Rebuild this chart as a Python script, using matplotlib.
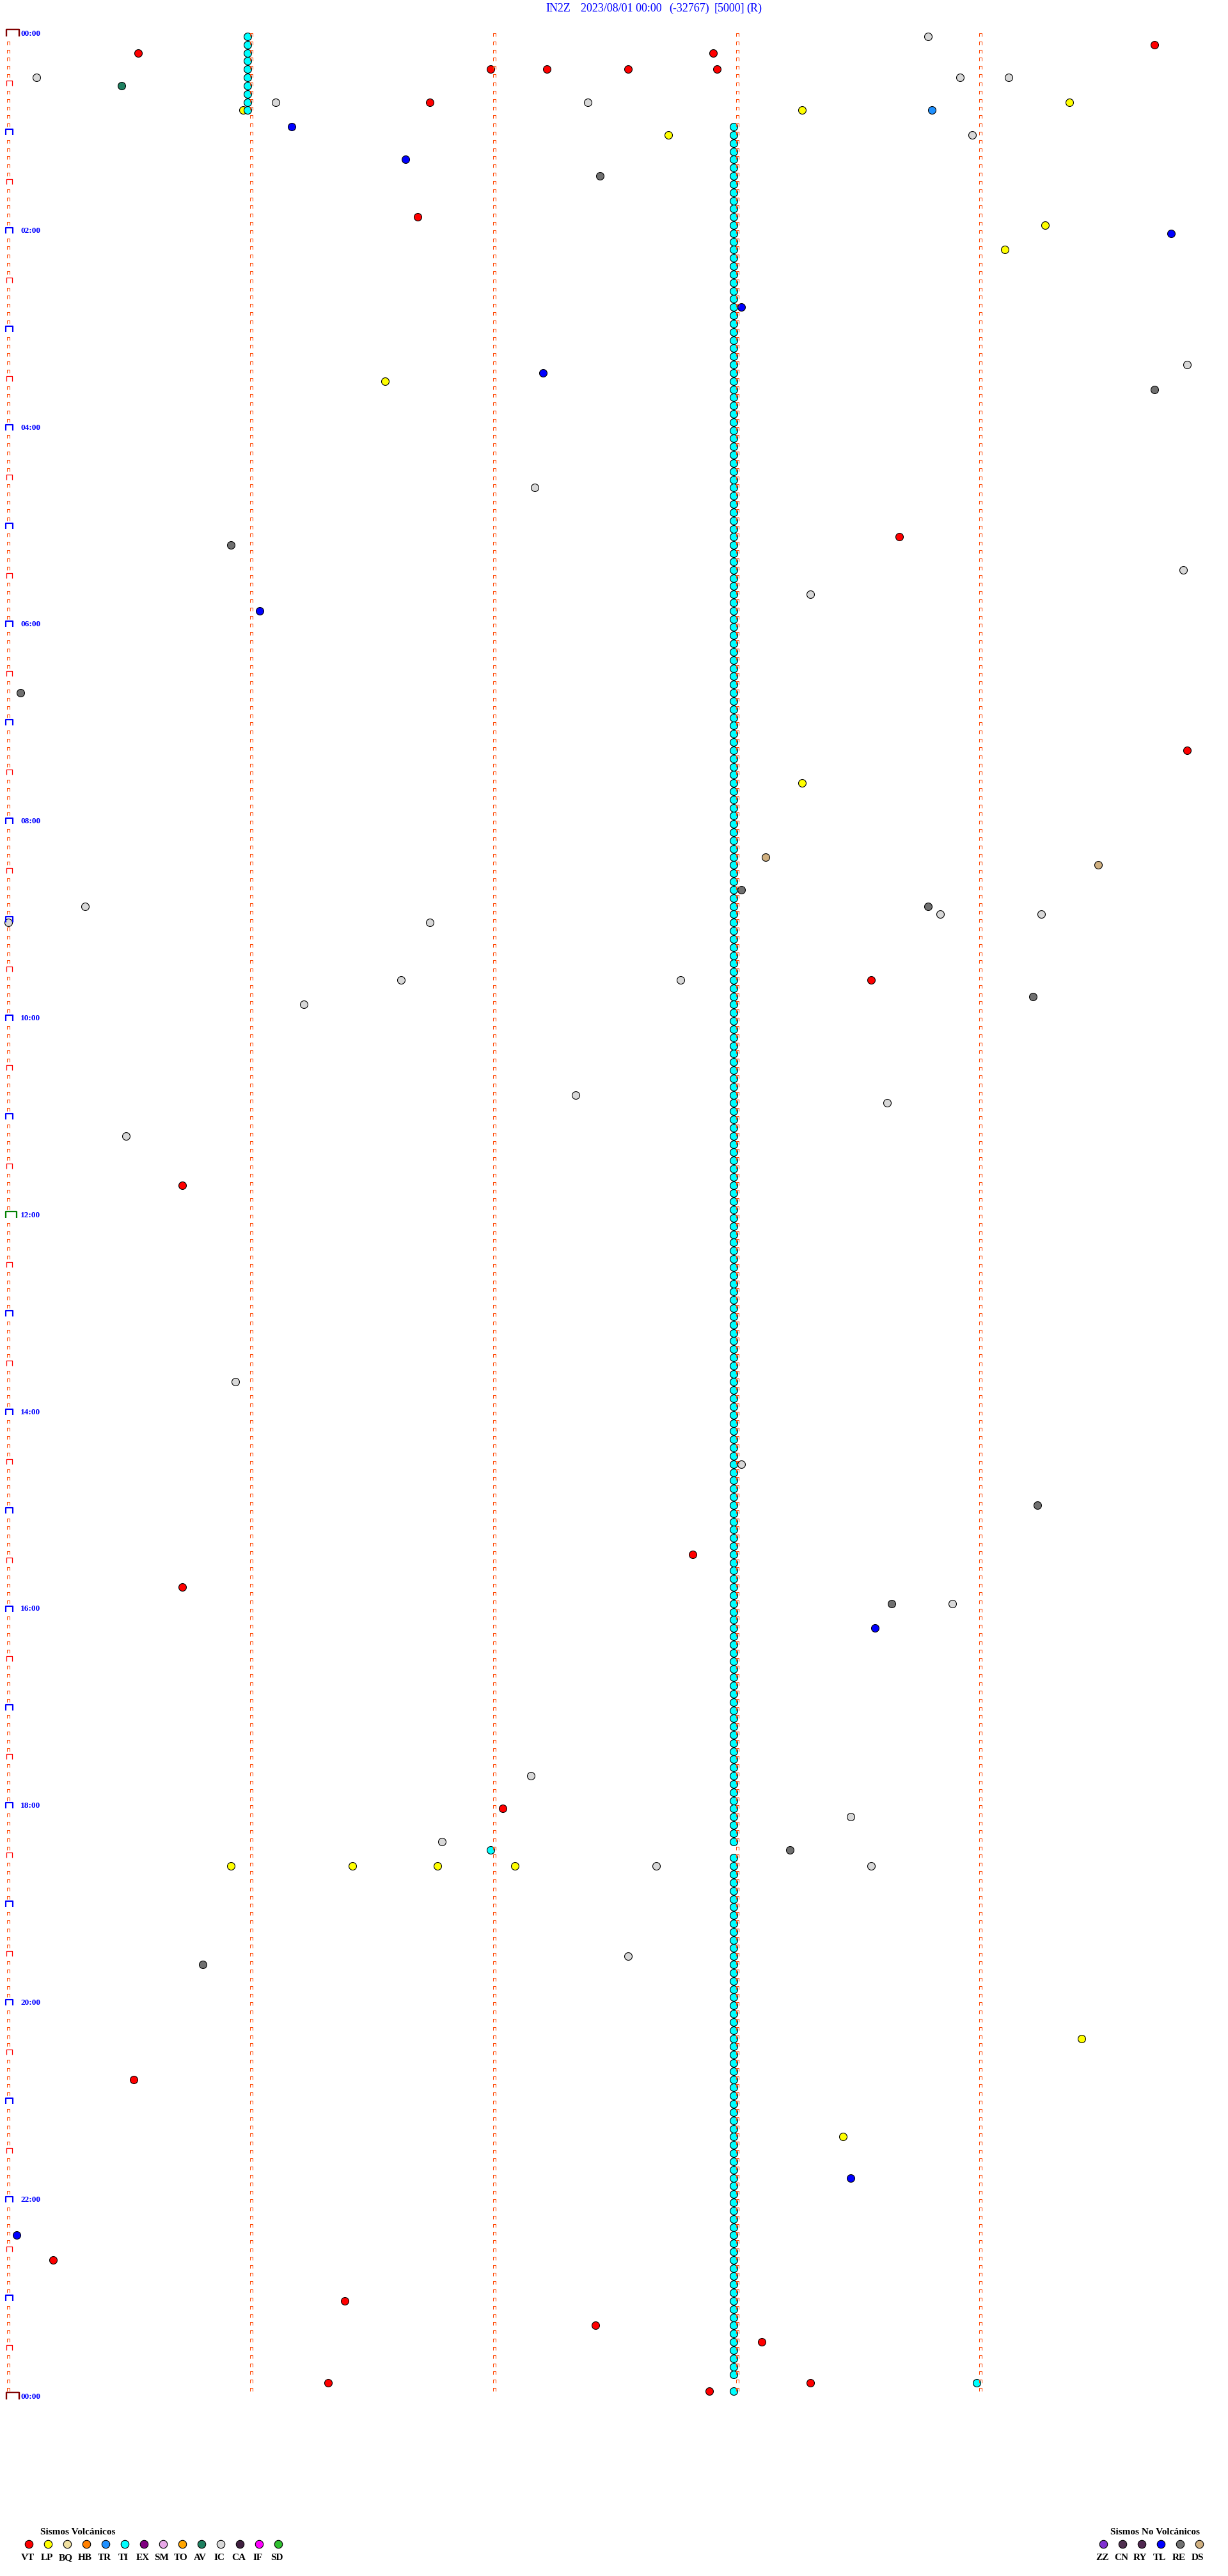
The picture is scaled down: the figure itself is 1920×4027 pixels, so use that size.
import numpy as np
import pandas as pd
import matplotlib
matplotlib.use("Agg")
import matplotlib.pyplot as plt
from matplotlib.path import Path

# header of the drum record
station = "IN2Z"
start_txt = "2023/08/01 00:00"
clip_txt = "(-32767)"
scale_txt = "[5000]"
mode_txt = "(R)"

minutes_per_line = 5
n_lines = 288
hour_labels = ["00:00", "02:00", "04:00", "06:00", "08:00", "10:00", "12:00",
               "14:00", "16:00", "18:00", "20:00", "22:00", "00:00"]

volc_types = ["VT", "LP", "BQ", "HB", "TR", "TI", "EX", "SM", "TO", "AV", "IC", "CA", "IF", "SD"]
volc_colors = ["#ff0000", "#ffff00", "#f0e0a0", "#ff8000", "#1e90ff", "#00ffff", "#800080",
               "#e8a8e8", "#ffa500", "#1e8060", "#d8d8d8", "#402040", "#ff00ff", "#30c030"]
novolc_types = ["ZZ", "CN", "RY", "TL", "RE", "DS"]
novolc_colors = ["#8030d0", "#503050", "#502850", "#0000ff", "#707070", "#d0b080"]

# picked events (time of day)
vt_times = ["00:09:43", "00:10:32", "00:12:54", "00:21:59", "00:22:13", "00:22:33", "00:22:55",
            "00:41:44", "01:51:41", "05:08:40", "07:19:51", "09:38:33", "11:40:43", "15:27:49",
            "15:45:43", "18:02:02", "20:45:31", "22:35:11", "23:01:23", "23:17:25", "23:28:06",
            "23:51:19", "23:53:18", "23:57:53"]
lp_times = ["00:45:58", "00:48:16", "00:44:22", "01:02:43", "01:59:16", "02:14:06", "03:31:33",
            "07:38:16", "18:35:55", "18:36:25", "18:36:46", "18:37:05", "20:24:25", "21:23:26"]
tr_times = ["00:48:48"]
av_times = ["00:30:28"]
ic_times = ["00:03:47", "00:25:07", "00:28:55", "00:29:07", "00:41:06", "00:42:23", "01:03:58",
            "03:24:51", "04:37:10", "05:29:50", "05:43:18", "08:50:19", "08:58:50", "08:59:15",
            "09:00:00", "09:01:44", "09:36:37", "09:37:46", "09:51:13", "10:47:20", "10:53:37",
            "11:10:29", "13:40:56", "14:33:01", "15:58:53", "17:42:09", "18:08:28", "18:21:47",
            "18:37:40", "18:38:33", "19:32:33"]
re_times = ["01:27:26", "03:39:43", "05:10:55", "06:40:03", "08:43:01", "08:53:47", "09:49:13",
            "14:59:14", "15:58:38", "18:28:13", "19:35:48"]
tl_times = ["00:56:10", "01:16:38", "02:04:47", "02:48:01", "03:27:12", "05:51:02", "16:13:34",
            "21:48:28", "22:20:02"]
ds_times = ["08:23:07", "08:29:29"]

# tremor (TI) trains: one pick every line
ti_train1 = ("00:00:59", "00:45:59")
ti_train2 = ("00:57:59", "23:57:59")
ti_missing = ["18:27:59", "23:52:59"]
ti_extra = ["18:26:59", "23:53:59"]


def to_min(t):
    h, m, s = (int(v) for v in t.split(":"))
    return h * 60 + m + s / 60.0


def train(a, b):
    rng = pd.date_range("2023-08-01 " + a, "2023-08-01 " + b, freq="5min")
    return [d.strftime("%H:%M:%S") for d in rng]


ti_times = train(*ti_train1) + [t for t in train(*ti_train2) if t not in ti_missing] + ti_extra

events = {"VT": vt_times, "LP": lp_times, "TI": ti_times, "TR": tr_times, "AV": av_times,
          "IC": ic_times, "TL": tl_times, "RE": re_times, "DS": ds_times}
all_colors = dict(zip(volc_types + novolc_types, volc_colors + novolc_colors))

W, H = 1920, 4027
fig = plt.figure(figsize=(W / 100, H / 100), dpi=100)
ax = fig.add_axes([0, 0, 1, 1])
ax.set_xlim(-13 / 380, (W - 13) / 380)
ax.set_ylim((H - 57) / 12.826, -57 / 12.826)
ax.axis("off")


def cap(left, w, h):
    p = Path([(left, 0), (left, h), (left + w, h), (left + w, 0)],
             [Path.MOVETO, Path.LINETO, Path.LINETO, Path.LINETO])
    return p, 1.44 * max(abs(left), abs(left + w), h)


# small trace ticks on every line
small, ms_small = cap(-2.5, 5, 5)
rows = np.arange(n_lines)
special = set(range(0, n_lines + 1, 6))
for col in range(minutes_per_line):
    rr = rows if col > 0 else np.array([r for r in rows if r not in special])
    ax.plot(np.full(len(rr), col), rr, ls="none", marker=small, ms=ms_small,
            mfc="none", mec="#ff4500", mew=0.75, zorder=4)

half_rows = [r for r in range(6, n_lines, 12)]
hour_rows = [r for r in range(12, n_lines, 12) if r != 144]
marks = [(half_rows, cap(-3, 9, 8), "#ff0000", 0.9),
         (hour_rows, cap(-4, 11, 9), "#0000ff", 1.5),
         ([144], cap(-4, 17, 10), "#008000", 1.6),
         ([0, n_lines], cap(-3.5, 20.5, 11), "#800000", 1.7)]
for rr, (p, ms), col, lw in marks:
    ax.plot(np.zeros(len(rr)), rr, ls="none", marker=p, ms=ms,
            mfc="none", mec=col, mew=lw, zorder=4)

for i, lab in enumerate(hour_labels):
    ax.annotate(lab, xy=(0, i * 24), xytext=(13.7, 0.8), textcoords="offset points",
                ha="left", va="baseline", color="#0000ff", fontsize=9.6,
                fontweight="bold", family="Liberation Serif", zorder=5)

# event circles
for name in volc_types + novolc_types:
    if name not in events:
        continue
    t = np.array([to_min(v) for v in events[name]])
    r = np.floor(t / minutes_per_line)
    x = t - r * minutes_per_line
    ax.scatter(x, r, s=74, c=all_colors[name], edgecolors="black", linewidths=0.8, zorder=3)

# header and legends in pixel space
ov = fig.add_axes([0, 0, 1, 1])
ov.set_xlim(0, W)
ov.set_ylim(H, 0)
ov.axis("off")
ov.patch.set_alpha(0)

for txt, x0 in [(station, 853), (start_txt, 908), (clip_txt, 1046), (scale_txt, 1117), (mode_txt, 1167)]:
    ov.text(x0, 18, txt, ha="left", va="baseline", color="#0000ff", fontsize=13,
            family="Liberation Serif")

serif = dict(family="Liberation Serif", fontweight="bold", color="black", fontsize=11)
ov.text(63, 3962, "Sismos Volcánicos", ha="left", va="baseline", **serif)
for i, (name, col) in enumerate(zip(volc_types, volc_colors)):
    ov.scatter(45 + 30 * i, 3977, s=80, c=col, edgecolors="black", linewidths=0.8)
    ov.text(43 + 30 * i, 4002, name, ha="center", va="baseline", **serif)

ov.text(1806, 3962, "Sismos No Volcánicos", ha="center", va="baseline", **serif)
for i, (name, col) in enumerate(zip(novolc_types, novolc_colors)):
    ov.scatter(1725 + 30 * i, 3977, s=80, c=col, edgecolors="black", linewidths=0.8)
    ov.text(1723 + 30 * i, 4002, name, ha="center", va="baseline", **serif)

fig.savefig("out.png", dpi=100)
